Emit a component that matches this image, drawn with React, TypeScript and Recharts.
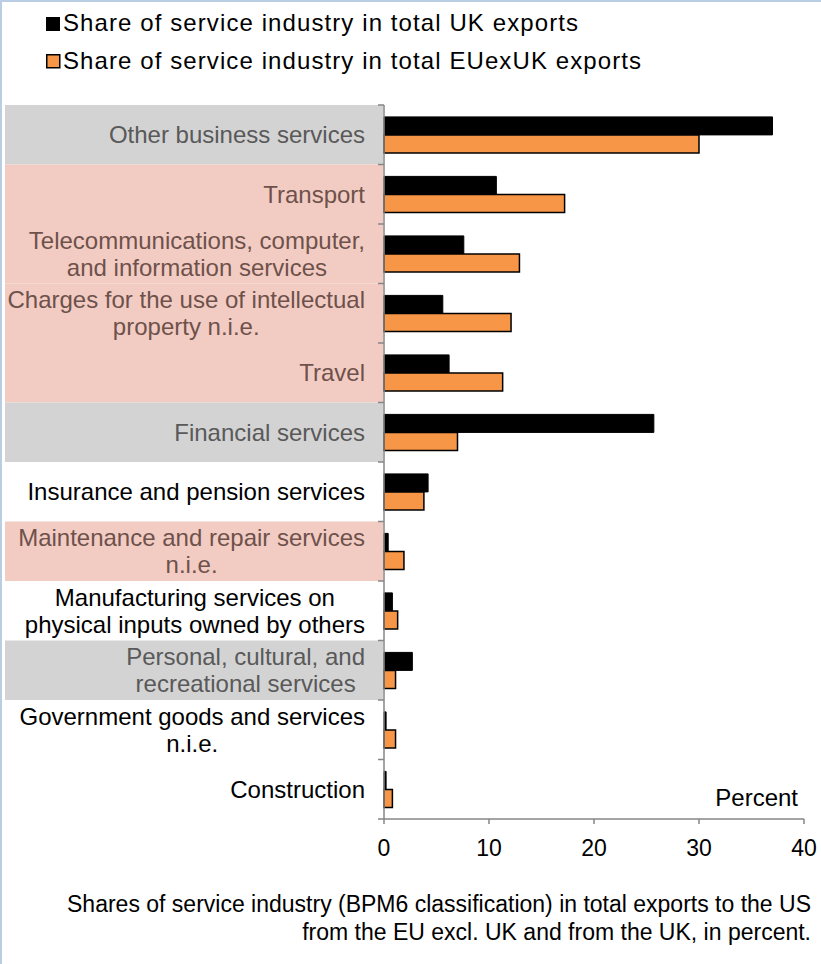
import React from 'react';
import { BarChart, Bar, XAxis, YAxis } from 'recharts';

// Service categories (BPM6), top to bottom
const categories = [
  'Other business services',
  'Transport',
  'Telecommunications, computer,\nand information services',
  'Charges for the use of intellectual\nproperty n.i.e.',
  'Travel',
  'Financial services',
  'Insurance and pension services',
  'Maintenance and repair services\nn.i.e.',
  'Manufacturing services on\nphysical inputs owned by others',
  'Personal, cultural, and\nrecreational services',
  'Government goods and services\nn.i.e.',
  'Construction',
];

// share in total exports to the US, percent
const ukShare = [37.0, 10.7, 7.6, 5.6, 6.2, 25.7, 4.2, 0.4, 0.8, 2.7, 0.2, 0.2];
const euShare = [30.0, 17.2, 12.9, 12.1, 11.3, 7.0, 3.8, 1.9, 1.3, 1.1, 1.1, 0.8];

// which rows are shaded
const rowGroup = ['grey', 'pink', 'pink', 'pink', 'pink', 'grey', '', 'pink', '', 'grey', '', ''];

const xTicks = [0, 10, 20, 30, 40];

const legendLabels = [
  'Share of service industry in total UK exports',
  'Share of service industry in total EUexUK exports',
];

const noteLines = [
  'Shares of service industry (BPM6 classification) in total exports to the US',
  'from the EU excl. UK and from the UK, in percent.',
];

const W = 821;
const H = 964;
const PLOT_LEFT = 384;
const PLOT_TOP = 105;
const PLOT_BOTTOM = 819;
const ROW_H = (PLOT_BOTTOM - PLOT_TOP) / categories.length;
const LABEL_RIGHT = 365;
const FONT = '"Liberation Sans", Arial, sans-serif';
const AXIS_GREY = '#868686';

const data = categories.map((name, i) => ({ name, uk: ukShare[i], eu: euShare[i] }));

let ctx: CanvasRenderingContext2D | null = null;
const textWidth = (s: string) => {
  if (!ctx) {
    ctx = document.createElement('canvas').getContext('2d');
    if (ctx) ctx.font = `24px ${FONT}`;
  }
  return ctx ? ctx.measureText(s).width : s.length * 11;
};

const bandFill: Record<string, string> = { grey: '#d3d3d3', pink: '#f2ccc3' };
const labelFill: Record<string, string> = { grey: '#595959', pink: '#6e514b' };

const CategoryTick = (props: any) => {
  const { y, payload } = props;
  const name: string = payload.value;
  const i = categories.indexOf(name);
  const group = rowGroup[i];
  const lines = name.split('\n');
  const maxW = Math.max(...lines.map(textWidth));
  const cx = LABEL_RIGHT - maxW / 2;
  const top = y - ROW_H / 2;
  return (
    <g>
      {group && (
        <rect x={5} y={top} width={PLOT_LEFT - 6} height={ROW_H} fill={bandFill[group]} />
      )}
      <line x1={PLOT_LEFT - 6} x2={PLOT_LEFT} y1={top} y2={top} stroke={AXIS_GREY} strokeWidth={1.5} />
      {i === categories.length - 1 && (
        <line x1={PLOT_LEFT - 6} x2={PLOT_LEFT} y1={top + ROW_H} y2={top + ROW_H} stroke={AXIS_GREY} strokeWidth={1.5} />
      )}
      {lines.map((ln, k) => (
        <text
          key={k}
          x={cx}
          y={y + (k - (lines.length - 1) / 2) * 27 + 8.5}
          textAnchor="middle"
          fontSize={24}
          fill={group ? labelFill[group] : '#000'}
        >
          {ln}
        </text>
      ))}
    </g>
  );
};

export default function App() {
  return (
    <div style={{ position: 'absolute', left: 0, top: 0, width: W, height: H, background: '#fff', fontFamily: FONT }}>
      <BarChart
        width={W}
        height={H}
        data={data}
        layout="vertical"
        margin={{ top: PLOT_TOP, right: W - 804, bottom: H - PLOT_BOTTOM - 40, left: 0 }}
        barCategoryGap="20%"
        barGap={0}
      >
        <XAxis
          type="number"
          domain={[0, 40]}
          ticks={xTicks}
          height={40}
          tickSize={5}
          tickMargin={16}
          axisLine={{ stroke: AXIS_GREY, strokeWidth: 1.5 }}
          tickLine={{ stroke: AXIS_GREY, strokeWidth: 1.5 }}
          tick={{ fill: '#000', fontSize: 23 }}
        />
        <YAxis
          type="category"
          dataKey="name"
          width={PLOT_LEFT}
          interval={0}
          tickLine={false}
          axisLine={{ stroke: AXIS_GREY, strokeWidth: 1.5 }}
          tick={<CategoryTick />}
        />
        <Bar dataKey="uk" fill="#000" stroke="#000" strokeWidth={1} isAnimationActive={false} />
        <Bar dataKey="eu" fill="#f79646" stroke="#000" strokeWidth={1.5} isAnimationActive={false} />
      </BarChart>

      <svg
        width={W}
        height={H}
        style={{ position: 'absolute', left: 0, top: 0, pointerEvents: 'none' }}
        fontFamily={FONT}
      >
        <line x1={0} y1={1} x2={W} y2={1} stroke="#b9cde5" strokeWidth={2} />
        <line x1={1} y1={0} x2={1} y2={H} stroke="#b9cde5" strokeWidth={2} />

        <rect x={46} y={17} width={14} height={14} fill="#000" />
        <text x={63} y={31} fontSize={24} fill="#000" textLength={515} lengthAdjust="spacing">
          {legendLabels[0]}
        </text>
        <rect x={46.75} y={54.75} width={13} height={13} fill="#f79646" stroke="#000" strokeWidth={1.5} />
        <text x={63} y={69} fontSize={24} fill="#000" textLength={578} lengthAdjust="spacing">
          {legendLabels[1]}
        </text>

        <text x={798} y={806} fontSize={24} textAnchor="end" fill="#000">
          Percent
        </text>

        <text x={811} y={912} fontSize={23} fill="#000" textAnchor="end">
          {noteLines[0]}
        </text>
        <text x={811} y={940} fontSize={23} fill="#000" textAnchor="end">
          {noteLines[1]}
        </text>
      </svg>
    </div>
  );
}
